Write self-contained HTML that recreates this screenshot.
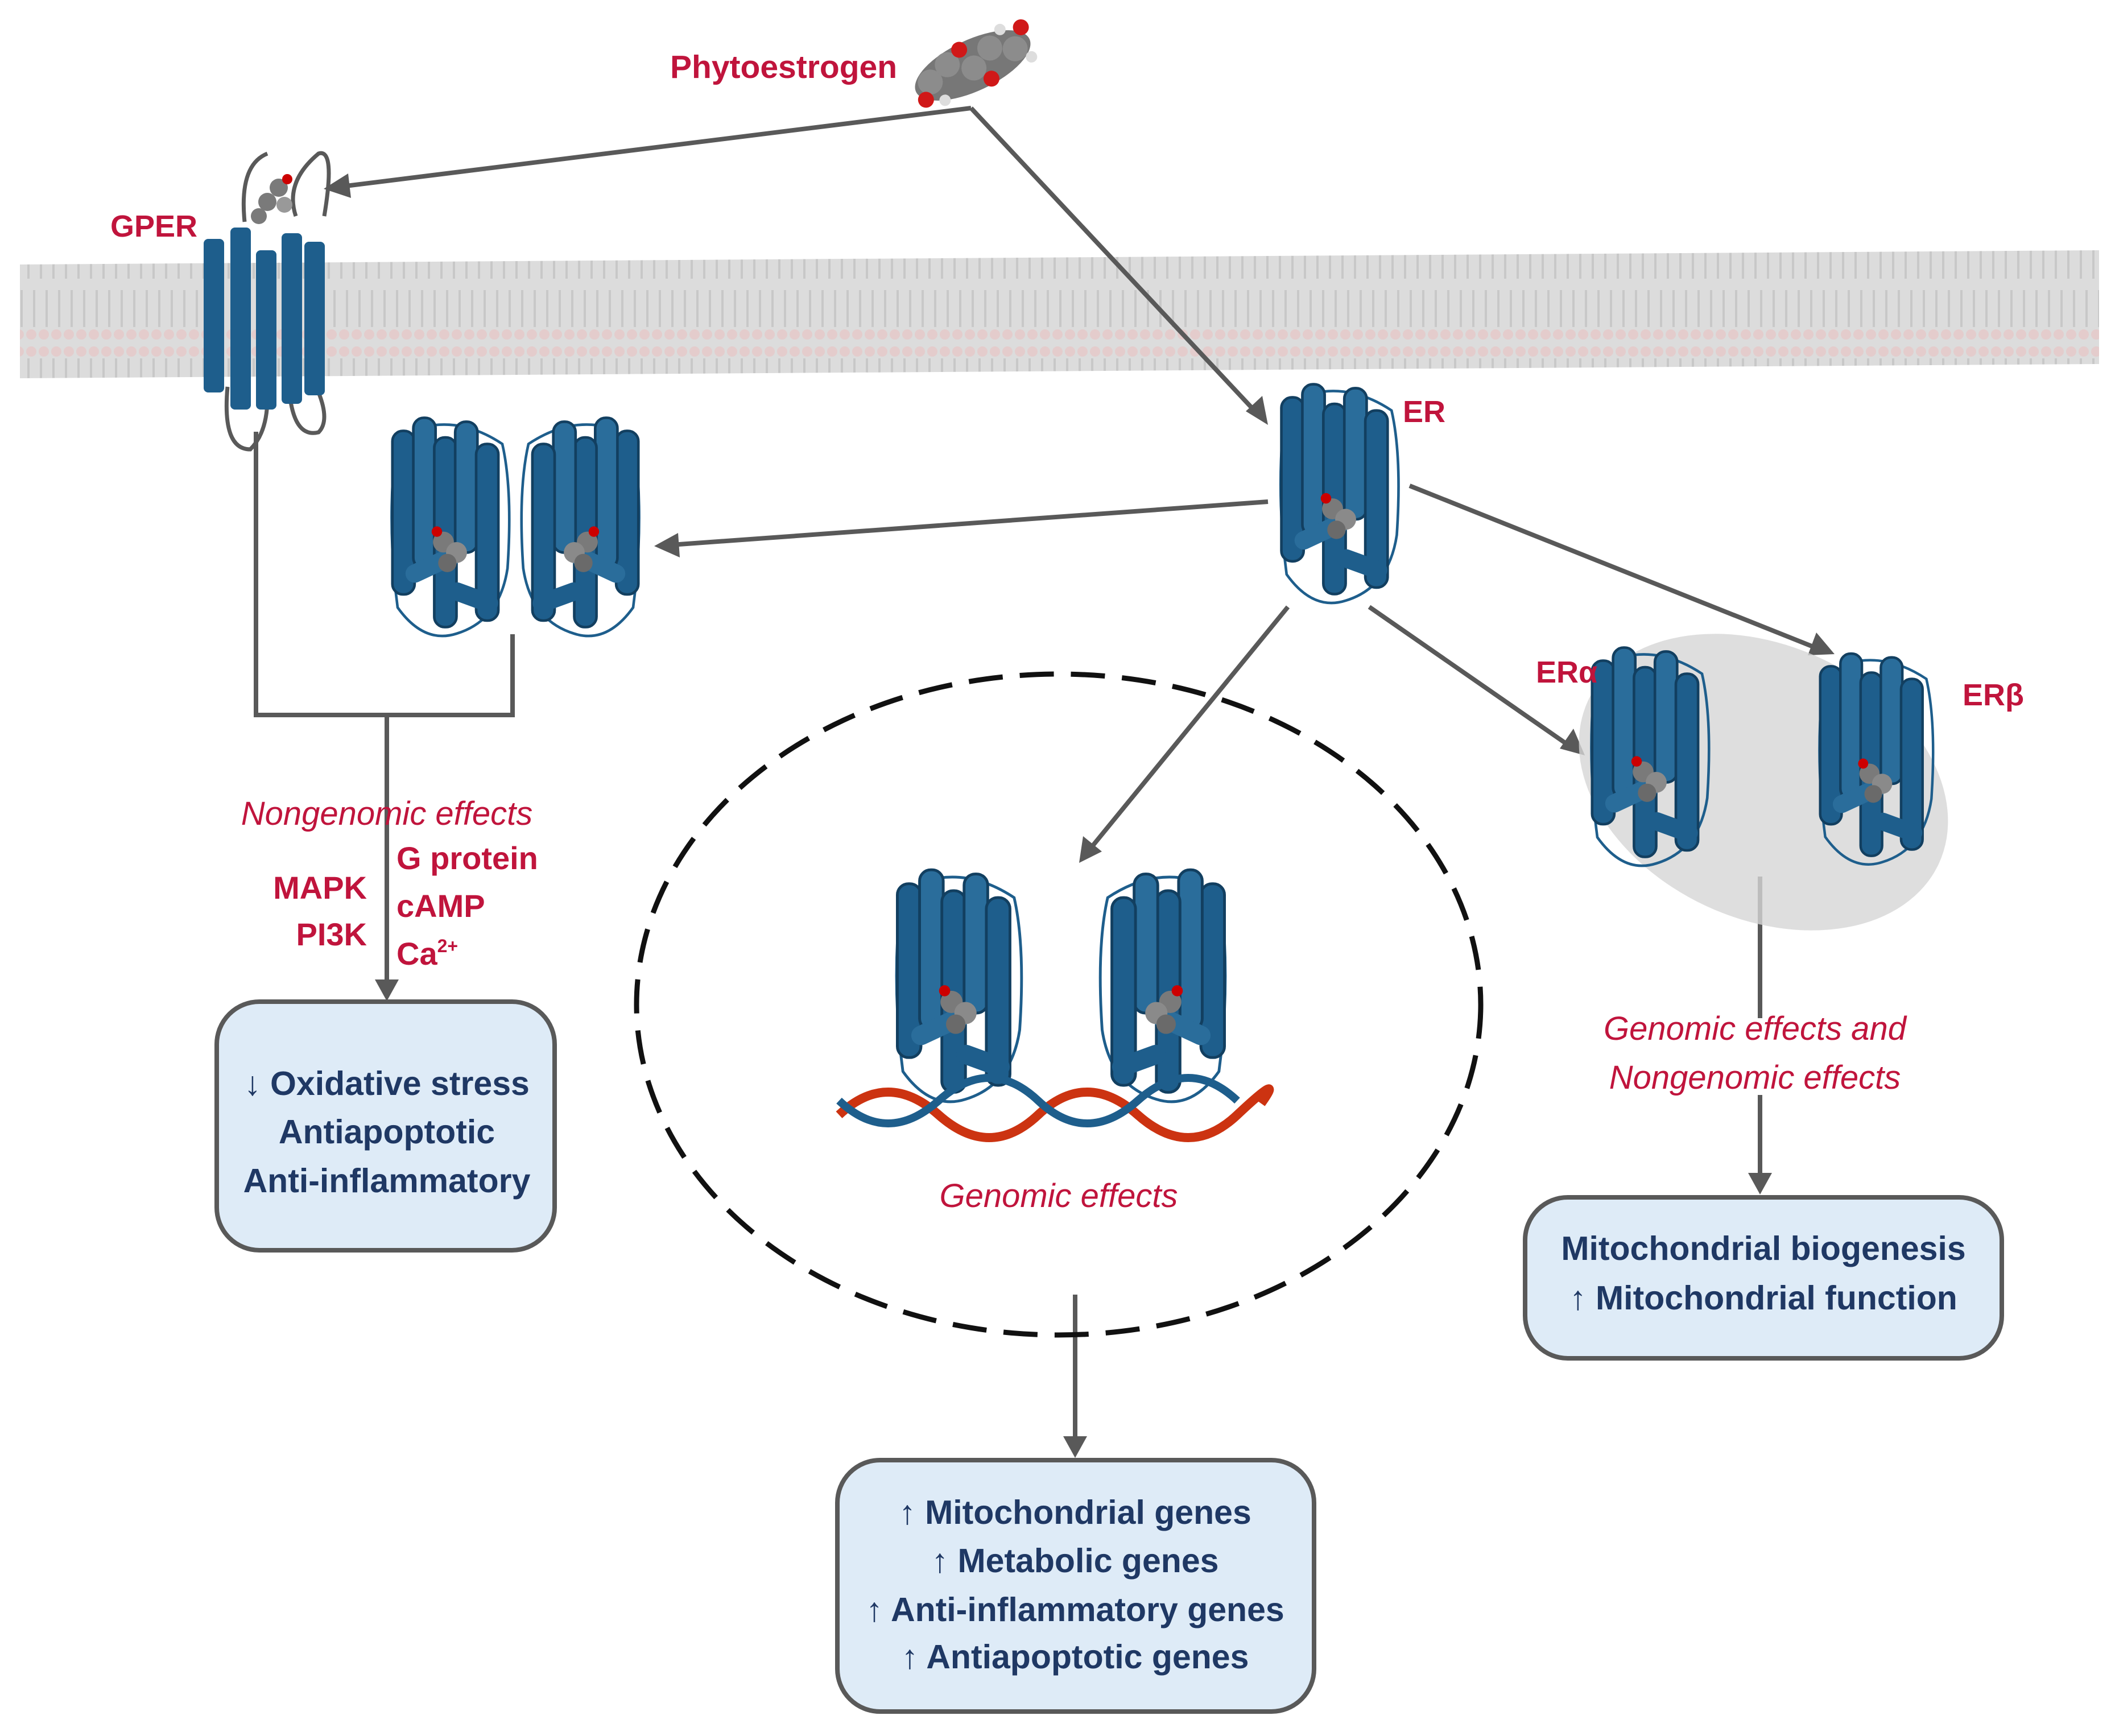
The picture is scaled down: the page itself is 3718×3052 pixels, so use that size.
<!DOCTYPE html>
<html><head><meta charset="utf-8"><style>
html,body{margin:0;padding:0;background:#fff;}
svg{display:block;}
text{font-family:"Liberation Sans",Arial,sans-serif;font-weight:bold;}
.red{fill:#c0143c;}
.it{font-style:italic;font-weight:normal;}
.nav{fill:#1f3864;font-size:59px;}
</style></head><body>
<svg width="3718" height="3052" viewBox="0 0 3718 3052" xmlns="http://www.w3.org/2000/svg">
<defs>
<pattern id="lip" width="22" height="200" patternUnits="userSpaceOnUse">
<rect width="22" height="200" fill="#dcdcdc"/>
<line x1="6" y1="30" x2="6" y2="90" stroke="#c8c8c8" stroke-width="4"/>
<line x1="16" y1="110" x2="16" y2="175" stroke="#c8c8c8" stroke-width="4"/>
<circle cx="11" cy="18" r="9" fill="#e4cccc"/>
<circle cx="11" cy="188" r="9" fill="#e4cccc"/>
</pattern>
<symbol id="prot" viewBox="0 0 100 180">
<path d="M8 30 Q2 90 10 150 Q30 178 55 170 Q88 160 94 120 Q98 60 90 25 Q60 5 30 12" fill="none" stroke="#1e5e8c" stroke-width="2"/>
<rect x="6" y="15" width="17" height="125" rx="8" fill="#1e5e8c" stroke="#123f60" stroke-width="2"/>
<rect x="22" y="5" width="17" height="115" rx="8" fill="#2a6d9b" stroke="#123f60" stroke-width="2"/>
<rect x="38" y="20" width="17" height="145" rx="8" fill="#1e5e8c" stroke="#123f60" stroke-width="2"/>
<rect x="54" y="8" width="17" height="100" rx="8" fill="#2a6d9b" stroke="#123f60" stroke-width="2"/>
<rect x="70" y="25" width="17" height="135" rx="8" fill="#1e5e8c" stroke="#123f60" stroke-width="2"/>
<rect x="14" y="110" width="45" height="14" rx="7" fill="#2a6d9b" transform="rotate(-25 38 116)"/>
<rect x="48" y="135" width="40" height="14" rx="7" fill="#1e5e8c" transform="rotate(20 67 141)"/>
<circle cx="45" cy="100" r="8" fill="#7a7a7a"/><circle cx="55" cy="108" r="8" fill="#8a8a8a"/><circle cx="48" cy="116" r="7" fill="#6a6a6a"/><circle cx="40" cy="92" r="4" fill="#c00"/>
</symbol>
</defs>

<polygon points="35,465 3690,440 3690,640 35,665" fill="url(#lip)"/>

<g stroke="#595959" stroke-width="8" fill="none">
<line x1="1707" y1="190" x2="600" y2="328"/>
<line x1="1707" y1="190" x2="2210" y2="727"/>
<line x1="2229" y1="882" x2="1180" y2="958"/>
<line x1="2478" y1="854" x2="3195" y2="1140"/>
<line x1="2407" y1="1067" x2="2760" y2="1312"/>
<line x1="2264" y1="1067" x2="1915" y2="1494"/>
<polyline points="450,759 450,1257 901,1257 901,1115"/>
<line x1="680" y1="1257" x2="680" y2="1730"/>
<line x1="1890" y1="2276" x2="1890" y2="2530"/>
<line x1="3094" y1="1541" x2="3094" y2="1790"/>
<line x1="3094" y1="1925" x2="3094" y2="2070"/>
</g>
<g fill="#595959">
<polygon points="569,332 612,305 617,348"/>
<polygon points="2229,747 2190,723 2219,696"/>
<polygon points="1150,960 1192,937 1195,980"/>
<polygon points="3225,1150 3178,1152 3193,1112"/>
<polygon points="2786,1328 2742,1316 2766,1281"/>
<polygon points="1897,1517 1904,1470 1937,1497"/>
<polygon points="680,1760 659,1722 701,1722"/>
<polygon points="1890,2563 1869,2525 1911,2525"/>
<polygon points="3094,2100 3073,2062 3115,2062"/>
</g>

<g>
<path d="M430 390 Q420 290 470 270 M520 380 Q500 320 560 270 Q590 260 570 380" fill="none" stroke="#595959" stroke-width="7"/>
<path d="M400 680 Q390 790 440 790 Q470 760 470 700 M510 700 Q520 770 560 760 Q580 740 560 690" fill="none" stroke="#595959" stroke-width="7"/>
<rect x="358" y="420" width="36" height="270" rx="8" fill="#1e5e8c"/>
<rect x="405" y="400" width="36" height="320" rx="8" fill="#1e5e8c"/>
<rect x="450" y="440" width="36" height="280" rx="8" fill="#1e5e8c"/>
<rect x="495" y="410" width="36" height="300" rx="8" fill="#1e5e8c"/>
<rect x="535" y="425" width="36" height="270" rx="8" fill="#1e5e8c"/>
<g fill="#7a7a7a"><circle cx="490" cy="330" r="16"/><circle cx="470" cy="355" r="16"/><circle cx="500" cy="360" r="14" fill="#999"/><circle cx="455" cy="380" r="14"/></g>
<circle cx="505" cy="315" r="9" fill="#c00"/>
</g>
<text x="194" y="416" class="red" font-size="54">GPER</text>

<g transform="rotate(-25 1710 115)">
<ellipse cx="1710" cy="115" rx="110" ry="45" fill="#777"/>
<g fill="#8c8c8c"><circle cx="1630" cy="110" r="22"/><circle cx="1670" cy="95" r="22"/><circle cx="1710" cy="120" r="22"/><circle cx="1750" cy="100" r="22"/><circle cx="1790" cy="120" r="22"/></g>
<g fill="#d01818"><circle cx="1610" cy="135" r="14"/><circle cx="1700" cy="80" r="14"/><circle cx="1815" cy="90" r="14"/><circle cx="1730" cy="150" r="14"/></g>
<g fill="#ddd"><circle cx="1640" cy="150" r="10"/><circle cx="1780" cy="78" r="10"/><circle cx="1810" cy="145" r="10"/></g>
</g>
<text x="1178" y="137" class="red" font-size="57">Phytoestrogen</text>

<use href="#prot" x="676" y="700" width="230" height="460"/>
<use href="#prot" x="910" y="700" width="230" height="460" transform="scale(-1 1) translate(-2046 0)"/>
<use href="#prot" x="2229" y="664" width="250" height="415"/>
<text x="2466" y="742" class="red" font-size="54">ER</text>

<ellipse cx="3100" cy="1375" rx="340" ry="240" fill="#d6d6d6" opacity="0.8" transform="rotate(25 3100 1375)"/>
<use href="#prot" x="2785" y="1114" width="230" height="440"/>
<use href="#prot" x="3180" y="1138" width="235" height="400"/>
<text x="2700" y="1200" class="red" font-size="54" font-weight="normal">ERα</text>
<text x="3450" y="1240" class="red" font-size="54" font-weight="normal">ERβ</text>

<ellipse cx="1861" cy="1766" rx="742" ry="581" fill="none" stroke="#111" stroke-width="9" stroke-dasharray="60,30"/>
<use href="#prot" x="1520" y="1517" width="330" height="440"/>
<use href="#prot" x="1880" y="1517" width="330" height="440" transform="scale(-1 1) translate(-4090 0)"/>
<path d="M1475 1960 Q1560 1880 1650 1960 T1825 1960 T2000 1960 T2175 1960 T2217 1940" fill="none" stroke="#cc3311" stroke-width="16"/>
<path d="M1475 1935 Q1560 2015 1650 1935 T1825 1935 T2000 1935 T2175 1935" fill="none" stroke="#1e5e8c" stroke-width="14"/>
<text x="1861" y="2122" text-anchor="middle" class="red it" font-size="58">Genomic effects</text>

<text x="680" y="1450" text-anchor="middle" class="red it" font-size="58">Nongenomic effects</text>
<text x="645" y="1580" text-anchor="end" class="red" font-size="56">MAPK</text>
<text x="645" y="1662" text-anchor="end" class="red" font-size="56">PI3K</text>
<text x="697" y="1528" class="red" font-size="56">G protein</text>
<text x="697" y="1612" class="red" font-size="56">cAMP</text>
<text x="697" y="1696" class="red" font-size="56">Ca<tspan font-size="32" dy="-22">2+</tspan></text>
<text x="3085" y="1828" text-anchor="middle" class="red it" font-size="58">Genomic effects and</text>
<text x="3085" y="1914" text-anchor="middle" class="red it" font-size="58">Nongenomic effects</text>

<rect x="381" y="1761" width="594" height="437" rx="75" fill="#deebf7" stroke="#595959" stroke-width="8"/>
<text x="680" y="1925" text-anchor="middle" class="nav">↓ Oxidative stress</text>
<text x="680" y="2010" text-anchor="middle" class="nav">Antiapoptotic</text>
<text x="680" y="2096" text-anchor="middle" class="nav">Anti-inflammatory</text>

<rect x="2681" y="2105" width="838" height="283" rx="75" fill="#deebf7" stroke="#595959" stroke-width="8"/>
<text x="3100" y="2215" text-anchor="middle" class="nav">Mitochondrial biogenesis</text>
<text x="3100" y="2302" text-anchor="middle" class="nav">↑ Mitochondrial function</text>

<rect x="1472" y="2567" width="838" height="442" rx="75" fill="#deebf7" stroke="#595959" stroke-width="8"/>
<text x="1890" y="2679" text-anchor="middle" class="nav">↑ Mitochondrial genes</text>
<text x="1890" y="2764" text-anchor="middle" class="nav">↑ Metabolic genes</text>
<text x="1890" y="2850" text-anchor="middle" class="nav">↑ Anti-inflammatory genes</text>
<text x="1890" y="2933" text-anchor="middle" class="nav">↑ Antiapoptotic genes</text>
</svg>
</body></html>
